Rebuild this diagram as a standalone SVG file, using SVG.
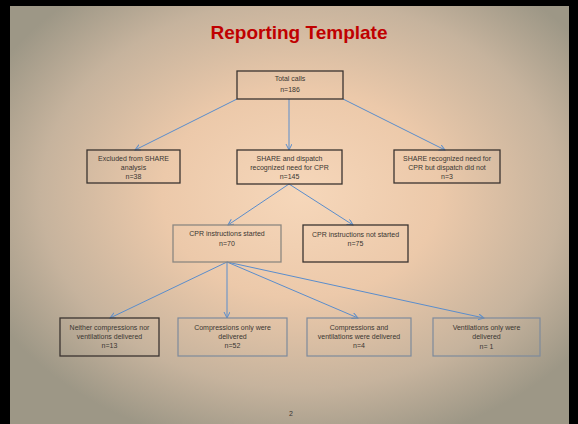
<svg xmlns="http://www.w3.org/2000/svg" width="578" height="424" viewBox="0 0 578 424">
<defs>
<radialGradient id="bg" cx="0.52" cy="0.45" r="0.62" gradientUnits="objectBoundingBox">
<stop offset="0" stop-color="#f6d7ba"/>
<stop offset="0.4" stop-color="#ecc9aa"/>
<stop offset="0.75" stop-color="#c6b39d"/>
<stop offset="1" stop-color="#9d9786"/>
</radialGradient>
<marker id="arr" markerUnits="userSpaceOnUse" markerWidth="10" markerHeight="10" refX="6" refY="3" orient="auto">
<path d="M0,0 L6,3 L0,6" fill="none" stroke="#5a8dcc" stroke-width="1"/>
</marker>
<style>
.dk{fill:none;stroke:#3b3430;stroke-width:1.3}
.gr{fill:none;stroke:#8c8780;stroke-width:1.3}
.sl{fill:none;stroke:#7e8a9c;stroke-width:1.2}
.t{font-family:"Liberation Sans",Arial,sans-serif;font-size:7px;fill:#3a3632;text-anchor:middle}
.c{stroke:#5a8dcc;stroke-width:1;fill:none}
</style>
</defs>
<rect x="0" y="0" width="578" height="424" fill="#000"/>
<rect x="10" y="6" width="559" height="418" fill="url(#bg)"/>
<text x="299" y="39" font-family="Liberation Sans,Arial,sans-serif" font-weight="bold" font-size="19" fill="#c00000" text-anchor="middle">Reporting Template</text>
<g id="connectors">
<line class="c" x1="237" y1="99" x2="135" y2="150" marker-end="url(#arr)"/>
<line class="c" x1="289" y1="99" x2="289" y2="150" marker-end="url(#arr)"/>
<line class="c" x1="343" y1="99" x2="445" y2="150" marker-end="url(#arr)"/>
<line class="c" x1="289" y1="184" x2="228" y2="225" marker-end="url(#arr)"/>
<line class="c" x1="289" y1="184" x2="353" y2="225" marker-end="url(#arr)"/>
<line class="c" x1="227" y1="262" x2="110" y2="318" marker-end="url(#arr)"/>
<line class="c" x1="227" y1="262" x2="227" y2="318" marker-end="url(#arr)"/>
<line class="c" x1="227" y1="262" x2="358" y2="318" marker-end="url(#arr)"/>
<line class="c" x1="227" y1="262" x2="484" y2="318" marker-end="url(#arr)"/>
</g>
<g id="total">
<rect class="dk" x="237" y="71" width="106" height="28"/>
<text class="t" x="290" y="80.5">Total calls</text>
<text class="t" x="290" y="91.5">n=186</text>
</g>
<g id="excluded">
<rect class="dk" x="87" y="150" width="93" height="33"/>
<text class="t" x="133.5" y="160.5">Excluded from SHARE</text>
<text class="t" x="133.5" y="169.5">analysis</text>
<text class="t" x="133.5" y="178.5">n=38</text>
</g>
<g id="share-dispatch">
<rect class="dk" x="237" y="150" width="105" height="34"/>
<text class="t" x="289.5" y="160.5">SHARE and dispatch</text>
<text class="t" x="289.5" y="169.5">recognized need for CPR</text>
<text class="t" x="289.5" y="179">n=145</text>
</g>
<g id="share-only">
<rect class="dk" x="394" y="150" width="106" height="33"/>
<text class="t" x="447" y="160.5">SHARE recognized need for</text>
<text class="t" x="447" y="169.5">CPR but dispatch did not</text>
<text class="t" x="447" y="178.5">n=3</text>
</g>
<g id="cpr-started">
<rect class="gr" x="173" y="225" width="108" height="37"/>
<text class="t" x="227" y="236">CPR instructions started</text>
<text class="t" x="227" y="245.5">n=70</text>
</g>
<g id="cpr-not-started">
<rect class="dk" x="303" y="225" width="105" height="37"/>
<text class="t" x="355.5" y="236.5">CPR instructions not started</text>
<text class="t" x="355.5" y="245.5">n=75</text>
</g>
<g id="neither">
<rect class="dk" x="60" y="318" width="99" height="38"/>
<text class="t" x="109.5" y="329.5">Neither compressions nor</text>
<text class="t" x="109.5" y="338.5">ventilations  delivered</text>
<text class="t" x="109.5" y="347.5">n=13</text>
</g>
<g id="compressions-only">
<rect class="sl" x="178" y="318" width="109" height="38"/>
<text class="t" x="232.5" y="329.5">Compressions only were</text>
<text class="t" x="232.5" y="338.5">delivered</text>
<text class="t" x="232.5" y="347.5">n=52</text>
</g>
<g id="comp-and-vent">
<rect class="sl" x="307" y="318" width="104" height="38"/>
<text class="t" x="359" y="329.5">Compressions and</text>
<text class="t" x="359" y="338.5">ventilations were delivered</text>
<text class="t" x="359" y="348">n=4</text>
</g>
<g id="vent-only">
<rect class="sl" x="433" y="318" width="107" height="38"/>
<text class="t" x="486.5" y="330">Ventilations only were</text>
<text class="t" x="486.5" y="339">delivered</text>
<text class="t" x="486.5" y="348.5">n= 1</text>
</g>
<text class="t" x="291" y="415.5" font-size="6.5">2</text>
</svg>
